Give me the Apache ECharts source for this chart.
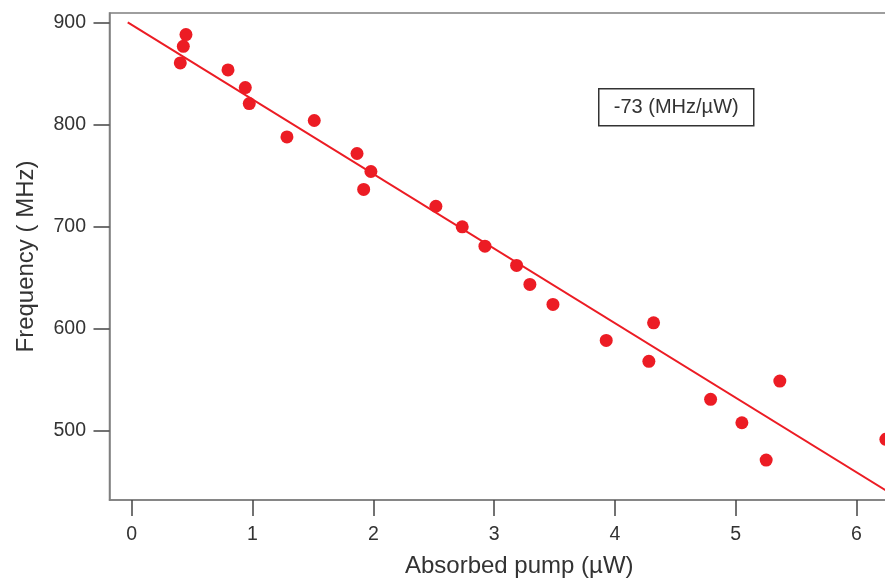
<!DOCTYPE html>
<html>
<head>
<meta charset="utf-8">
<title>Frequency vs absorbed pump</title>
<script src="https://cdn.jsdelivr.net/npm/echarts@6.0.0/dist/echarts.min.js"></script>
<style>
  html, body { margin: 0; padding: 0; background: #fff; }
  #chart { width: 885px; height: 585px; }
</style>
</head>
<body>
<div id="chart"></div>
<script>
// measured points (absorbed pump in uW, frequency in MHz)
const pumpX = [0.449, 0.427, 0.402, 0.797, 0.940, 0.973, 1.285, 1.511, 1.865, 1.980,
  1.920, 2.518, 2.736, 2.924, 3.186, 3.296, 3.487, 3.928, 4.320, 4.281,
  4.792, 5.051, 5.365, 5.252, 6.243];
const freqY = [888.0, 876.5, 860.2, 853.4, 836.1, 820.5, 787.8, 803.9, 771.6, 754.0,
  736.4, 720.0, 699.8, 680.9, 662.1, 643.5, 623.9, 588.7, 605.9, 568.2,
  531.0, 508.1, 548.9, 471.6, 491.9];

// fitted line, end points
const fitX = [-0.033, 6.6];
const fitY = [900, 415.8];

const xTicks = [0, 1, 2, 3, 4, 5, 6];
const yTicks = [500, 600, 700, 800, 900];
const slopeLabel = '-73 (MHz/\u00b5W)';

const font = '"Liberation Sans", Arial, Helvetica, sans-serif';
const textColor = '#333';
const axisColor = '#7f7f7f';
const red = '#ec1c24';

const chart = echarts.init(document.getElementById('chart'));

const axisCommon = {
  type: 'value',
  nameLocation: 'middle',
  splitLine: { show: false },
  axisLine: { show: true, onZero: false, lineStyle: { color: axisColor, width: 1.5 } },
  axisTick: { show: true, length: 16, lineStyle: { color: '#444', width: 1.5 } },
};

const option = {
  animation: false,
  backgroundColor: '#fff',
  grid: {
    left: 109.5,
    right: -44,
    top: 13,
    bottom: 85,
    containLabel: false,
    outerBoundsMode: 'none',
    show: true,
    borderColor: axisColor,
    borderWidth: 1.5,
  },
  xAxis: Object.assign({}, axisCommon, {
    min: -0.184,
    max: 6.6,
    name: 'Absorbed pump (\u00b5W)',
    nameGap: 54,
    nameTextStyle: { fontFamily: font, fontSize: 24, color: textColor },
    axisTick: Object.assign({}, axisCommon.axisTick, { customValues: xTicks }),
    axisLabel: { customValues: xTicks, margin: 25, fontFamily: font, fontSize: 19.5, color: textColor },
  }),
  yAxis: Object.assign({}, axisCommon, {
    min: 432.5,
    max: 909.1,
    name: 'Frequency ( MHz)',
    nameGap: 71,
    nameTextStyle: { fontFamily: font, fontSize: 24, color: textColor },
    axisTick: Object.assign({}, axisCommon.axisTick, { customValues: yTicks }),
    axisLabel: { customValues: yTicks, margin: 23.5, fontFamily: font, fontSize: 19.5, color: textColor },
  }),
  series: [
    {
      type: 'line',
      data: fitX.map((x, i) => [x, fitY[i]]),
      symbol: 'none',
      clip: true,
      lineStyle: { color: red, width: 2 },
      z: 2,
    },
    {
      type: 'scatter',
      data: pumpX.map((x, i) => [x, freqY[i]]),
      symbol: 'circle',
      symbolSize: 13,
      clip: false,
      itemStyle: { color: red, opacity: 1 },
      z: 3,
    },
  ],
  graphic: [
    {
      type: 'group',
      left: 598,
      top: 88,
      children: [
        {
          type: 'rect',
          shape: { x: 0, y: 0, width: 155, height: 37 },
          style: { fill: '#fff', stroke: '#333', lineWidth: 1.5 },
        },
        {
          type: 'text',
          x: 77.5,
          y: 18.5,
          style: {
            text: slopeLabel,
            fontFamily: font,
            fontSize: 20,
            fill: textColor,
            align: 'center',
            verticalAlign: 'middle',
          },
        },
      ],
    },
  ],
};

chart.setOption(option);
</script>
</body>
</html>
